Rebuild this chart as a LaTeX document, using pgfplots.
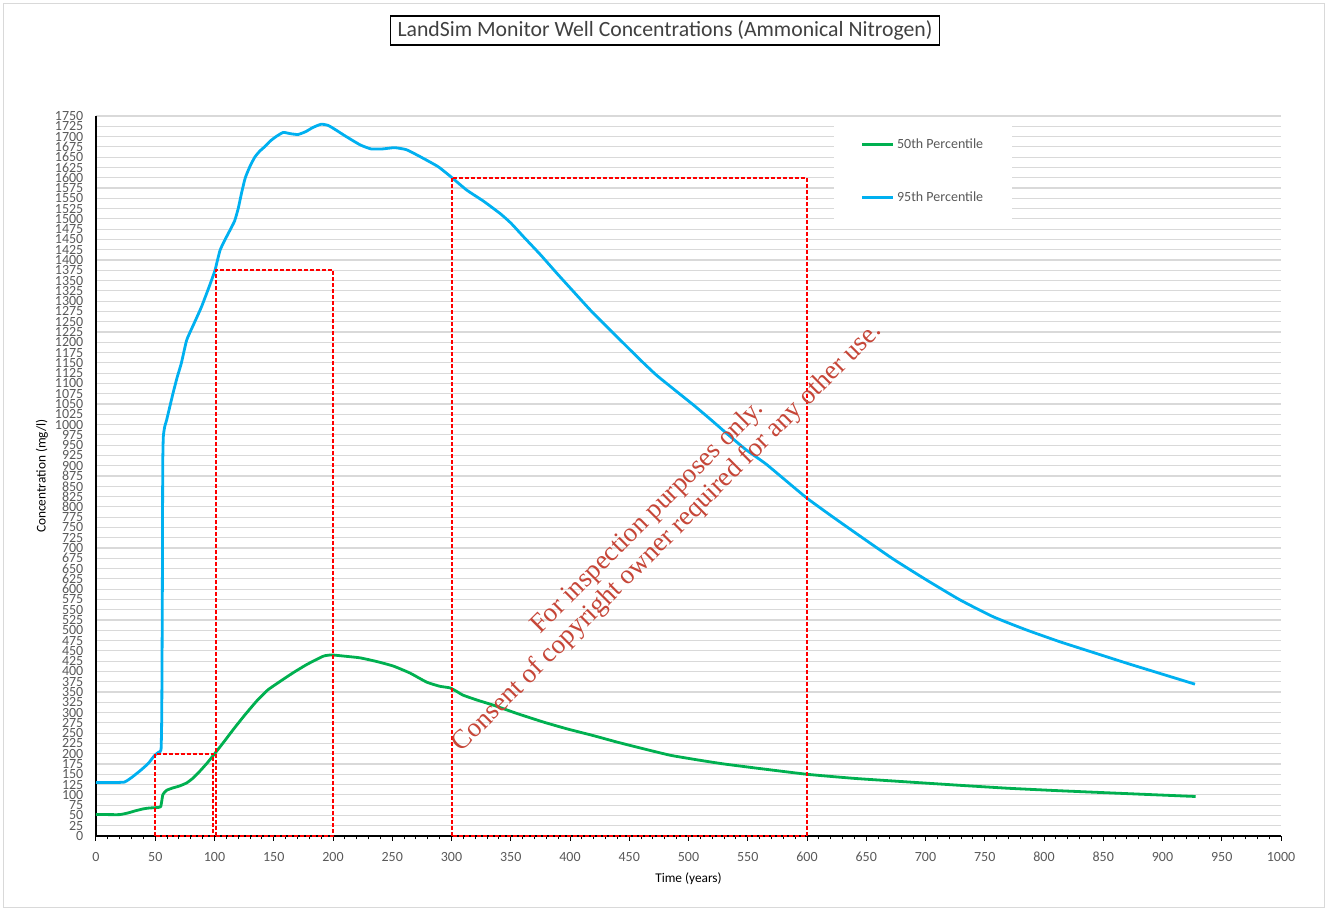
\documentclass[border=0pt]{standalone}
\usepackage{fontspec}
\setmainfont{Carlito}
\newfontfamily\wmfont{Liberation Serif}
\usepackage{pgfplots}
\pgfplotsset{compat=1.18}
\definecolor{pgreen}{RGB}{0,176,80}
\definecolor{pblue}{RGB}{0,176,240}
\definecolor{gridgray}{RGB}{217,217,217}
\definecolor{txtgray}{RGB}{89,89,89}
\definecolor{titlegray}{RGB}{64,64,64}
\definecolor{wmred}{RGB}{198,70,56}
\definecolor{guidered}{RGB}{255,0,0}
\pgfplotstableread{
x y
0 52
10 52
20 52
27 56
33 61
40 66
45 68
51 69
54.5 71
55.5 85
56.5 101
59.6 111
65 117
70 121
76.5 129
82 141
87.8 158
94 178
100.4 201
108 229
115.9 259
125 292
135.6 328
145 355
155 375
166.5 397
178 417
191.8 437
198.9 440
210 437
222.8 433
237 424
250.9 413
265 396
279 374
290 364
298.7 360
304 352
310 342
322 330
335.3 318
355 298
377.5 277
398 260
419.7 244
440 228
462 212
485 196
509.7 184
530 175
560 164
600 150
640 140
687 131
730 123
770 116
813 110
870 103
928 96
}\greendata
\pgfplotstableread{
x y
0 130
17 130
24 131
26 134
30 142
37 158
44 176
49.5 196
53 204
54.9 210
55.5 300
56 600
56.3 894
56.8 970
58 995
59.6 1011
62 1040
65 1076
68.5 1115
72 1149
76.5 1205
82 1241
89 1286
96 1339
100.4 1375
104.6 1423
109 1450
113 1472
117 1495
120 1525
123 1565
126 1600
130 1628
134 1650
138 1664
142.6 1676
147 1689
152 1700
158 1710
164 1707
170.5 1705
177 1712
183 1722
190 1730
196 1727
203 1715
210 1702
222.8 1680
232 1670
242 1670
252 1673
262 1668
273 1652
288.6 1627
300 1601
312.8 1570
327 1543
341 1513
350 1490
360.6 1457
375 1413
388.8 1368
403 1323
416.9 1279
431 1238
445 1198
459 1158
473 1120
488 1085
504 1048
518 1014
532 979
548 940
565 905
580 869
600 821
622 775
644.7 729
672.8 673
701 622
729 574
757 533
785 501
813.5 472
841.6 446
869.8 420
898 395
927.4 369
}\bluedata
\begin{document}
\begin{tikzpicture}
\begin{axis}[
  scale only axis, width=888.75pt, height=540pt,
  xmin=0, xmax=1000, ymin=0, ymax=1750,
  axis x line=bottom, axis y line=left,
  axis line style={-, black, line width=1pt},
  xtick={0,50,...,1000}, minor x tick num=4,
  ytick={0,25,...,1750},
  ymajorgrids, major grid style={gridgray, line width=0.9pt},
  tick align=outside,
  major tick length=3.75pt, minor tick length=2.6pt,
  xtick style={black, line width=0.75pt},
  minor x tick style={black, line width=0.75pt},
  ytick style={draw=none},
  ticklabel style={font=\fontsize{10.5}{12}\selectfont, text=txtgray},
  /pgf/number format/assume math mode=true,
  /pgf/number format/1000 sep={},
  yticklabel style={xshift=-2.25pt},
  xticklabel style={yshift=-5pt},
  xlabel={Time (years)}, ylabel={Concentration (mg/l)},
  label style={font=\fontsize{11.5}{13}\selectfont, text=txtgray},
  every axis x label/.style={at={(axis description cs:0.5,-0.0597)}, anchor=center},
  every axis y label/.style={at={(axis description cs:-0.0456,0.5)}, anchor=center, rotate=90},
  legend style={at={(0.6228,0.9944)}, anchor=north west, fill=white, draw=none,
    font=\fontsize{10.5}{12}\selectfont, text=txtgray,
    inner xsep=19.75pt, inner ysep=12pt, row sep=27pt, nodes={inner sep=2pt}},
  legend cell align=left,
  legend image code/.code={\draw[#1] (0pt,0pt) -- (23.25pt,0pt);},
  clip=false,
]
\addplot[pgreen, line width=2.1pt, line join=round, smooth, tension=0.3] table[x=x,y=y] {\greendata};
\addlegendentry{50th Percentile}
\addplot[pblue, line width=2.1pt, line join=round, smooth, tension=0.3] table[x=x,y=y] {\bluedata};
\addlegendentry{95th Percentile}
\addplot[forget plot, draw=guidered, line width=1.5pt, dash pattern=on 3pt off 1.5pt] coordinates {(50,0) (50,200) (99,200) (99,0) (50,0)};
\addplot[forget plot, draw=guidered, line width=1.5pt, dash pattern=on 3pt off 1.5pt] coordinates {(101,0) (101,1375) (200,1375) (200,0) (101,0)};
\addplot[forget plot, draw=guidered, line width=1.5pt, dash pattern=on 3pt off 1.5pt] coordinates {(300,0) (300,1600) (600,1600) (600,0) (300,0)};
\node[rotate=45, align=center, text=wmred, font=\wmfont\fontsize{20.25}{21}\selectfont] at (axis cs:474,749) {For inspection purposes only.\\Consent of copyright owner required for any other use.};
\end{axis}
\pgfresetboundingbox
\begin{scope}[x=0.75pt,y=-0.75pt,shift={(-96,-836)}]
\path (0,0) rectangle (1328,912);
\draw[gridgray, line width=0.75pt] (4,4) rectangle (1324,908);
\node[draw=black, line width=0.9pt, inner xsep=5pt, inner ysep=0pt, minimum height=21.75pt, text=titlegray, font=\fontsize{16.3}{19}\selectfont] at (665,30.5) {LandSim Monitor Well Concentrations (Ammonical Nitrogen)};
\end{scope}
\end{tikzpicture}
\end{document}
